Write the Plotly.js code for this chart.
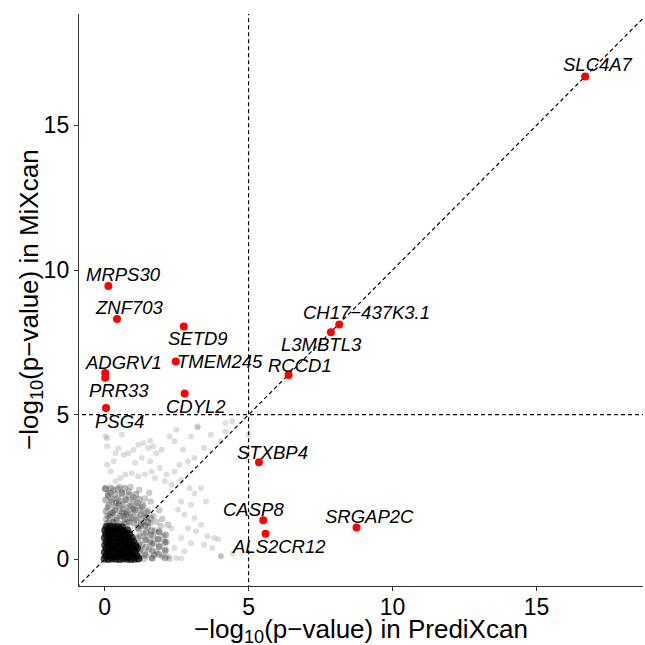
<!DOCTYPE html>
<html>
<head>
<meta charset="utf-8">
<script src="https://cdn.plot.ly/plotly-3.0.1.min.js"></script>
<style>html,body{margin:0;padding:0;background:#fff;}#chart{width:645px;height:645px;}</style>
</head>
<body>
<div id="chart"></div>
<script>
// ---- Highlighted genes ----
const genes = ["MRPS30","ZNF703","SETD9","TMEM245","ADGRV1","PRR33","PSG4","CDYL2",
  "RCCD1","L3MBTL3","CH17\u2212437K3.1","SLC4A7","STXBP4","CASP8","ALS2CR12","SRGAP2C"];
const prediXcan = [0.13,0.43,2.75,2.47,0.02,0.02,0.05,2.78,6.39,7.86,8.15,16.69,5.36,5.51,5.59,8.75];
const miXcan    = [9.45,8.31,8.05,6.84,6.44,6.28,5.23,5.73,6.37,7.85,8.12,16.69,3.36,1.35,0.89,1.10];

// ---- Background genes: sparse outer region ----
const outerX = [0.09,0.38,0.49,0.66,0.83,1.00,1.17,1.35,1.52,1.69,1.80,1.98,2.26,2.43,2.72,3.00,3.23,4.20,4.03,3.69,
  3.46,3.12,2.89,2.60,2.43,2.15,1.92,1.63,1.40,1.17,0.95,0.72,0.55,0.38,0.21,0.09,0.32,1.06,1.29,1.58,
  1.75,2.09,2.32,2.66,2.95,3.12,3.35,3.52,3.00,2.66,2.55,2.77,3.12,3.35,3.57,3.80,3.17,2.89,2.66,3.00,
  2.77,2.43,2.20,2.49,2.66,4.03,3.46,2.09,2.32,4.05,3.74,0.03,0.60,4.20,4.43,5.00,3.23,2.49,1.58,0.09,4.45,3.95];
const outerY = [3.91,3.67,3.83,3.62,3.67,3.79,3.96,4.02,3.85,3.91,3.67,3.79,4.25,4.08,3.79,4.25,4.56,4.42,4.08,4.31,
  3.85,3.50,3.39,3.27,3.04,2.93,3.16,3.04,2.93,2.87,2.98,2.93,2.81,2.70,3.04,3.27,3.39,3.33,3.50,3.39,
  2.81,2.70,2.58,2.75,2.46,2.29,2.46,2.00,1.89,2.00,1.72,1.54,1.43,1.20,0.80,0.74,0.97,1.08,0.74,0.56,
  0.28,0.39,0.10,0.05,0.03,0.10,0.51,0.62,1.08,0.12,0.39,4.25,4.31,4.71,4.77,4.32,4.60,4.48,4.11,4.19,0.20,0.70];

// ---- Background genes: medium-density region ----
const midX = [0.05,0.10,0.12,0.20,0.25,0.30,0.35,0.40,0.45,0.50,0.55,0.60,0.65,0.70,0.75,0.80,0.85,0.90,0.95,1.00,
  1.05,1.10,1.15,1.20,1.25,1.30,1.40,1.45,1.50,1.60,1.70,1.80,0.02,0.15,0.28,0.52,0.68,0.90,1.35,1.55,
  1.20,1.30,1.35,1.40,1.45,1.50,1.55,1.60,1.65,1.70,1.75,1.80,1.85,1.90,1.95,2.00,2.05,2.10,2.15,2.20,
  1.25,1.60,2.00,1.90,1.25,1.38,1.58,1.72,1.88,2.25,1.15,1.15,0.10,0.30,0.60,0.85,1.00,0.40,0.75,0.20];
const midY = [1.40,1.80,2.20,1.55,2.00,2.40,1.70,1.35,2.10,1.90,1.50,2.30,1.75,1.40,2.05,1.60,2.35,1.85,1.45,2.15,
  1.70,1.35,1.95,2.40,1.55,1.80,2.10,1.45,1.70,2.00,1.50,1.30,2.45,1.25,1.60,2.50,1.25,2.50,1.30,2.30,
  0.10,0.50,0.90,0.20,0.70,1.10,0.35,0.85,0.05,0.55,1.00,0.25,0.70,0.45,1.15,0.10,0.80,0.30,0.60,1.20,
  1.15,1.25,1.40,1.70,0.35,0.02,0.60,0.15,0.95,0.02,0.75,1.10,1.50,1.30,1.60,1.30,1.75,1.95,1.55,2.30];

// ---- Background genes: second medium-density set ----
const mid2X = [0.08,0.30,0.55,0.78,1.02,1.27,1.50, 0.18,0.42,0.66,0.90,1.15,1.38,1.60, 0.05,0.28,0.52,0.76,1.00,1.24,1.46,
  0.15,0.38,0.62,0.86,1.10,1.33, 0.04,0.26,0.50,0.72,0.97,1.20, 0.12,0.36,0.60,0.84,1.08, 0.03,0.22,0.46,0.70,
  1.20,1.21,1.19,1.22,1.18, 1.42,1.43,1.41,1.44,1.40, 1.65,1.66,1.64,1.67,1.63, 1.88,1.89,1.87,1.90, 2.10,2.11,2.09,2.12];
const mid2Y = [1.24,1.27,1.22,1.26,1.25,1.23,1.28, 1.46,1.43,1.47,1.44,1.45,1.48,1.42, 1.66,1.63,1.67,1.65,1.64,1.68,1.62,
  1.86,1.84,1.87,1.83,1.85,1.88, 2.05,2.07,2.03,2.06,2.04,2.08, 2.26,2.24,2.27,2.23,2.25, 2.45,2.47,2.43,2.46,
  0.05,0.30,0.55,0.80,1.05, 0.15,0.42,0.68,0.92,1.15, 0.05,0.30,0.55,0.80,1.00, 0.18,0.44,0.70,0.95, 0.06,0.32,0.58,0.85];

// ---- Background genes: dense core near the origin ----
const coreX = [0.00,0.13,0.26,0.39,0.52,0.65,0.78,0.91,1.04,1.17,
  0.06,0.19,0.32,0.45,0.58,0.71,0.84,0.97,1.10,
  0.01,0.13,0.27,0.40,0.53,0.66,0.79,0.92,1.05,
  0.07,0.20,0.33,0.46,0.59,0.72,0.85,0.98,1.12,
  0.02,0.14,0.26,0.40,0.54,0.67,0.80,0.93,1.06,
  0.08,0.21,0.34,0.47,0.60,0.73,0.86,0.99,
  0.01,0.15,0.28,0.41,0.55,0.68,0.81,0.94,
  0.06,0.19,0.32,0.46,0.59,0.72,0.85,
  0.02,0.14,0.27,0.40,0.53,0.66,0.79,
  0.07,0.20,0.33,0.46,0.60];
const coreY = [0.02,0.01,0.03,0.02,0.01,0.03,0.02,0.01,0.02,0.03,
  0.12,0.13,0.11,0.12,0.14,0.12,0.11,0.13,0.12,
  0.25,0.24,0.26,0.25,0.23,0.26,0.25,0.24,0.26,
  0.38,0.37,0.39,0.38,0.36,0.39,0.37,0.38,0.39,
  0.50,0.51,0.49,0.50,0.52,0.49,0.51,0.50,0.49,
  0.62,0.63,0.61,0.62,0.64,0.61,0.63,0.62,
  0.75,0.74,0.76,0.75,0.73,0.76,0.74,0.75,
  0.88,0.87,0.89,0.88,0.86,0.89,0.87,
  1.00,1.01,0.99,1.00,1.02,0.99,1.01,
  1.12,1.13,1.11,1.12,1.10];

// ---- Axis ticks and reference values ----
const tickVals = [0,5,10,15];
const threshold = 5;
const diagEnds = [-2, 25];

// ---- Label placement (layout only) ----
const labelPos = [
  [0.65,9.84],[0.88,8.69],[3.25,7.65],[4.0,6.84],[0.65,6.80],[0.51,5.82],[0.53,4.77],[3.19,5.30],
  [6.78,6.71],[7.53,7.42],[9.11,8.54],[17.12,17.10],[5.82,3.71],[5.16,1.74],[6.05,0.43],[9.21,1.49]
];

const cloudStyle = (op, sz) => ({color:'#000000', opacity:op, size:sz, line:{width:0}});
const dashLine = {color:'#000000', width:1.2, dash:'4px,3px'};

const traces = [
  {x:outerX, y:outerY, type:'scatter', mode:'markers', marker:cloudStyle(0.13,6), hoverinfo:'skip'},
  {x:midX, y:midY, type:'scatter', mode:'markers', marker:cloudStyle(0.2,6.5), hoverinfo:'skip'},
  {x:mid2X, y:mid2Y, type:'scatter', mode:'markers', marker:cloudStyle(0.28,7), hoverinfo:'skip'},
  {x:coreX, y:coreY, type:'scatter', mode:'markers', marker:cloudStyle(0.7,8), hoverinfo:'skip'},
  {x:[threshold,threshold], y:diagEnds, type:'scatter', mode:'lines', line:dashLine, hoverinfo:'skip'},
  {x:diagEnds, y:[threshold,threshold], type:'scatter', mode:'lines', line:dashLine, hoverinfo:'skip'},
  {x:diagEnds, y:diagEnds, type:'scatter', mode:'lines', line:dashLine, hoverinfo:'skip'},
  {x:prediXcan, y:miXcan, type:'scatter', mode:'markers', marker:{color:'#FF0000', size:8}, text:genes, hoverinfo:'text'}
];

const baseFont = 'Liberation Sans, Arial, sans-serif';
const annotations = genes.map((g,i)=>({
  x:labelPos[i][0], y:labelPos[i][1], xref:'x', yref:'y', text:g, showarrow:false,
  font:{family:baseFont, size:18.5, color:'#000000', style:'italic'},
  xanchor:'center', yanchor:'middle'
}));

const titleFont = {family:baseFont, size:26, color:'#000000'};
annotations.push({
  xref:'paper', yref:'paper', x:0.5, y:0, yshift:-44, xanchor:'center', yanchor:'middle',
  text:'\u2212log<sub>10</sub>(p\u2212value) in PrediXcan', showarrow:false, font:titleFont
});
annotations.push({
  xref:'paper', yref:'paper', x:0, y:0.5, xshift:-49, xanchor:'center', yanchor:'middle', textangle:-90,
  text:'\u2212log<sub>10</sub>(p\u2212value) in MiXcan', showarrow:false, font:titleFont
});

const tickFont = {family:baseFont, size:23, color:'#000000'};
const layout = {
  width:645, height:645,
  margin:{l:79, r:2, t:14, b:59, pad:0},
  paper_bgcolor:'#ffffff', plot_bgcolor:'#ffffff',
  showlegend:false,
  xaxis:{
    range:[-0.89,18.70], tickvals:tickVals, ticks:'outside', ticklen:4, tickcolor:'#333333',
    showgrid:false, zeroline:false, showline:true, linecolor:'#333333', linewidth:1.2,
    tickfont:tickFont, ticklabelstandoff:-4
  },
  yaxis:{
    range:[-0.92,18.85], tickvals:tickVals, ticks:'outside', ticklen:4, tickcolor:'#333333',
    showgrid:false, zeroline:false, showline:true, linecolor:'#333333', linewidth:1.2,
    tickfont:tickFont
  },
  annotations:annotations
};

Plotly.newPlot('chart', traces, layout, {staticPlot:true, displayModeBar:false});
</script>
</body>
</html>
